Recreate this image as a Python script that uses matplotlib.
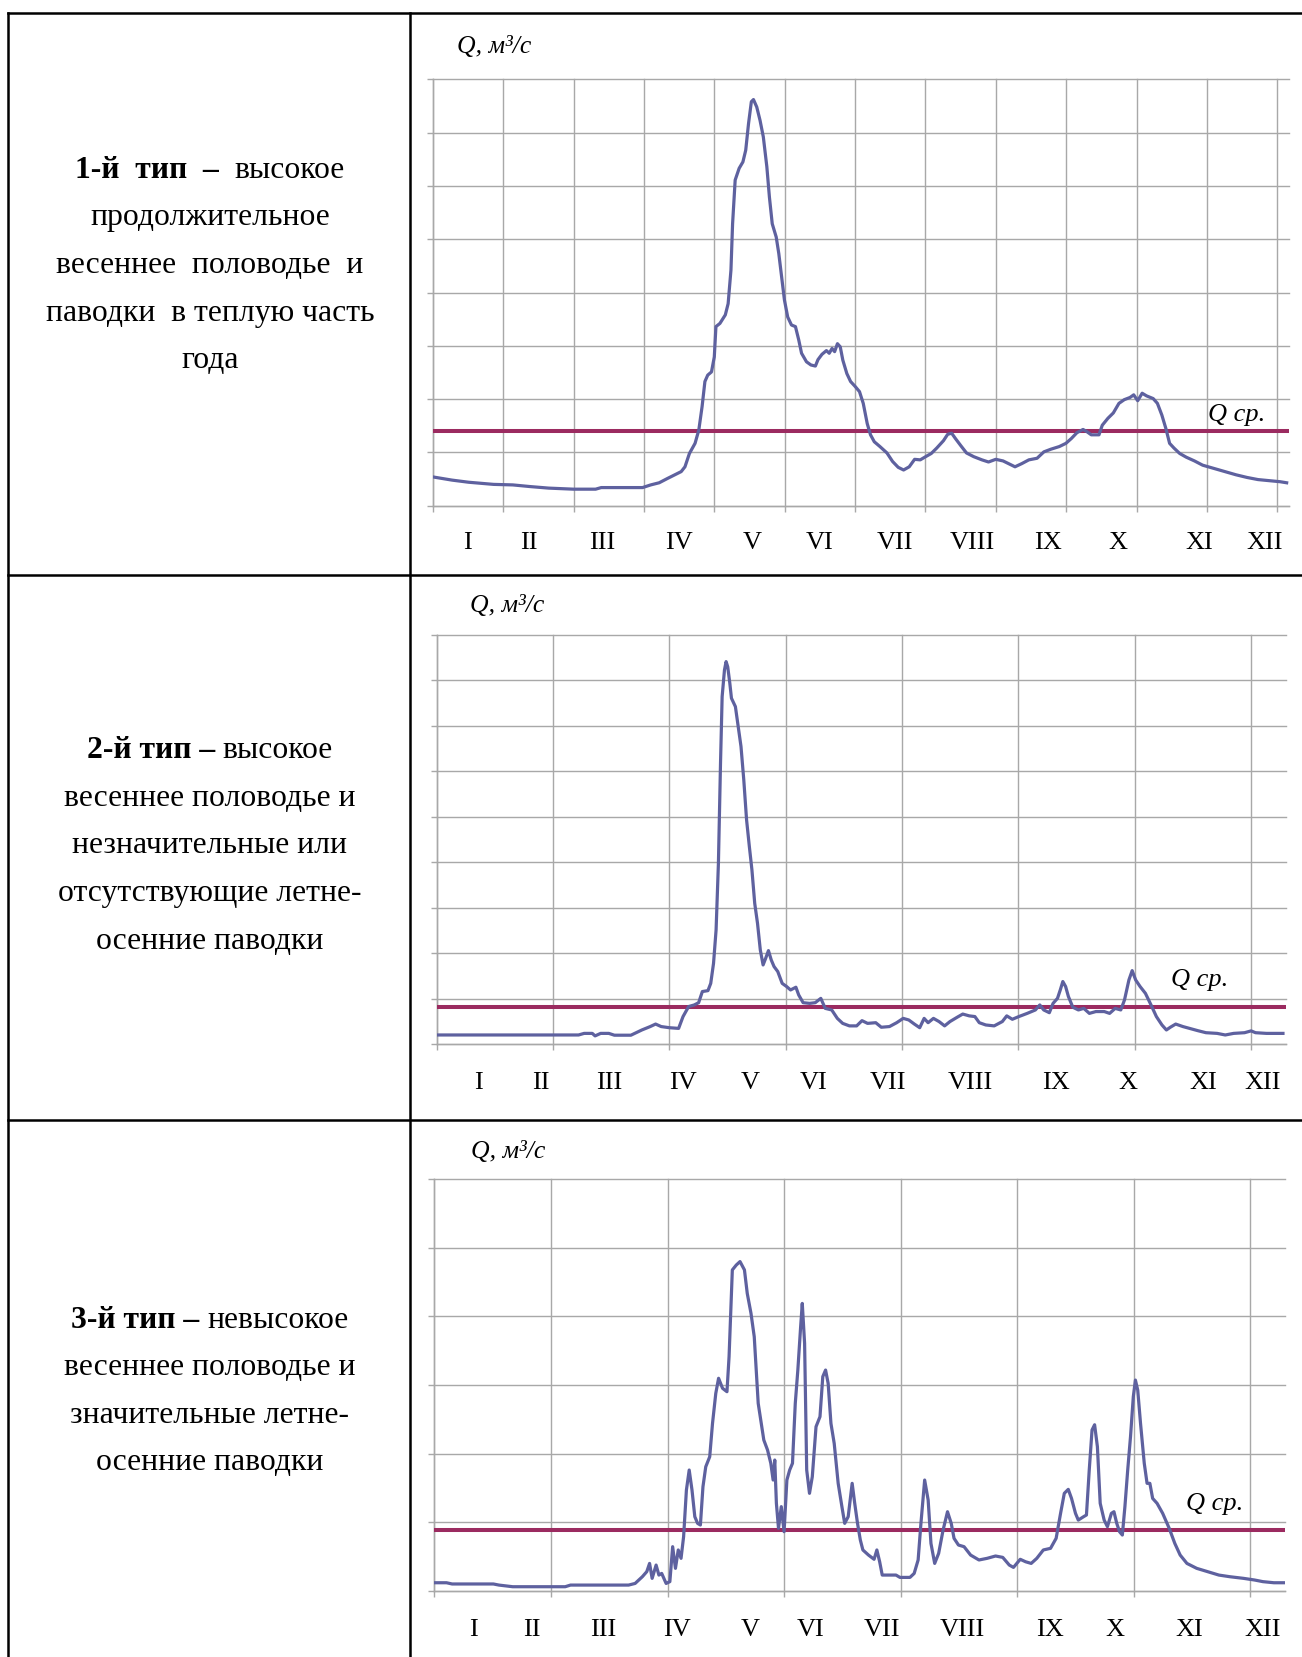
import numpy as np
import matplotlib
matplotlib.use("Agg")
import matplotlib.pyplot as plt

# ---------------------------------------------------------------------------
# Daily discharge hydrographs (day of year, Q in m3/s)
# ---------------------------------------------------------------------------
days_1 = [0, 8.2, 15.3, 25.9, 34.1, 41.2, 49.4, 60, 69.4, 71.8,
          89.4, 92.9, 96.5, 100, 105.9, 107.5, 109.4, 111.8, 113.4, 114.8,
          116, 117.2, 118.8, 120, 120.7, 122.4, 124.7, 125.9, 127.1, 127.8,
          128.9, 130.6, 132.2, 133.4, 134.6, 135.8, 136.7, 138.1, 139.5, 140.9,
          142.4, 143.5, 144.7, 146.4, 147.5, 148.7, 149.9, 151.3, 152.9, 154.6,
          156, 157.2, 159.3, 161.2, 163.1, 164.2, 165.9, 167.8, 169, 170.2,
          171.3, 172.5, 173.7, 174.8, 176.5, 178.1, 180, 181.9, 183.5, 185.2,
          186.6, 188.2, 190.6, 193.6, 196, 198.4, 200.7, 203.1, 205.4, 207.8,
          210.1, 212.5, 214.8, 217.7, 219.5, 221.2, 222.8, 225.2, 227.5, 230.6,
          234.1, 236.9, 240, 243.1, 245.9, 248.2, 251.1, 254.1, 257.6, 260.5,
          263.5, 267.1, 269.9, 272.2, 274.6, 277.2, 278.8, 280.7, 284, 285.4,
          287.8, 290.1, 292.5, 294.8, 297.2, 298.8, 300.5, 302.4, 304.3, 307.1,
          308.9, 310.8, 312.5, 314.1, 316, 318.4, 321.2, 324.7, 328.2, 332.9,
          337.7, 342.4, 347.1, 351.8, 356.5, 361.2, 364]
q_1 = [54, 48, 44, 40, 39, 36, 33, 31, 31, 34,
       34, 39, 43, 51, 64, 73, 98, 117, 142, 186,
       233, 245, 251, 279, 336, 342, 358, 379, 442, 529,
       611, 633, 645, 667, 717, 758, 762, 748, 723, 692,
       636, 579, 529, 504, 473, 429, 386, 354, 339, 336,
       311, 286, 270, 264, 262, 274, 284, 291, 286, 295,
       289, 304, 298, 273, 248, 233, 224, 214, 192, 154,
       133, 120, 111, 99, 83, 72, 67, 73, 87, 86,
       92, 98, 108, 122, 134, 136, 126, 112, 99, 92,
       86, 82, 87, 84, 78, 73, 79, 86, 89, 101,
       106, 111, 117, 126, 137, 143, 139, 133, 133, 151,
       164, 174, 192, 199, 203, 208, 197, 211, 206, 201,
       192, 170, 145, 117, 108, 98, 91, 84, 76, 70,
       64, 58, 53, 49, 47, 45, 43]
q_mean_1 = 140

days_2 = [0, 61, 63.4, 66.9, 68.1, 70.5, 74, 76.4, 83.5, 85.8,
          88.2, 91.8, 94.1, 96.5, 100, 104, 105.9, 108.3, 110.7, 112.6,
          114.2, 116.6, 117.8, 119, 120.1, 121.1, 122, 122.7, 123.7, 124.4,
          125.1, 126, 126.7, 128.4, 129.6, 130.8, 132, 133.2, 134.4, 135.5,
          136.7, 137.9, 139.1, 140.3, 141.4, 142.6, 143.8, 145, 146.6, 148.5,
          150.4, 152.1, 154.4, 155.6, 157.5, 160.3, 162.7, 165.1, 167, 169.8,
          172.2, 174.5, 177.4, 180.5, 182.8, 185.2, 188.7, 191.1, 194.6, 197.7,
          200.5, 202.9, 205.3, 207.6, 209.5, 211.2, 213.5, 215.9, 218.3, 220.6,
          223.7, 226.1, 228.9, 231.3, 233.2, 236, 239.6, 243.1, 245, 247.4,
          250.2, 253.8, 257.3, 259.2, 260.9, 263.3, 264.9, 266.8, 268, 269.1,
          270.3, 271.5, 273.4, 275.8, 278.1, 280.5, 283.3, 286.9, 289.2, 291.6,
          294, 295.6, 297.5, 298.9, 300.4, 302.3, 304.6, 307, 309.3, 311.7,
          313.6, 315.3, 317.6, 320.7, 323.5, 327.1, 330.6, 335.4, 338.9, 342.5,
          347.2, 350, 351.9, 356.6, 363.7]
q_2 = [4.1, 4.1, 4.8, 4.8, 3.7, 4.8, 4.8, 4.0, 4.0, 5.1,
       6.3, 7.8, 8.9, 7.8, 7.3, 7.0, 12.2, 16.6, 17.3, 18.3,
       23.2, 23.6, 26.8, 35.6, 50.3, 79.6, 123.6, 152.9, 164.6, 168.3,
       166, 158.8, 152.2, 148.5, 139.7, 131, 116.3, 98.7, 86.9, 76.7,
       62, 53.2, 41.5, 34.9, 37.8, 41.2, 37.1, 34.2, 32, 26.8,
       25.4, 23.9, 25.1, 21.7, 18.3, 18, 18.3, 20.2, 15.8, 15.1,
       11.4, 9.2, 8.1, 8.1, 10.4, 9.2, 9.5, 7.5, 7.8, 9.5,
       11.4, 10.7, 8.9, 7.3, 11.4, 9.5, 11.4, 10, 8.1, 10,
       11.9, 13.3, 12.5, 12.2, 9.5, 8.5, 8.1, 10, 12.5, 11,
       12.2, 13.6, 15.1, 17.3, 15.1, 13.9, 18, 20.2, 23.9, 27.6,
       25.4, 21, 16.3, 15.1, 15.8, 13.6, 14.4, 14.4, 13.6, 15.8,
       15.1, 19.5, 28.3, 32.4, 28.3, 25.4, 22.4, 17.3, 12.2, 8.5,
       6.3, 7.5, 8.9, 7.8, 7, 6, 5.1, 4.8, 4.1, 4.8,
       5.1, 5.9, 5.1, 4.8, 4.8]
q_mean_2 = 16.3

days_3 = [0, 5.2, 7.6, 25.3, 27.7, 33.6, 56.1, 58.4, 83.3, 86.1,
          89.2, 91.1, 92.3, 93.4, 95.1, 96.3, 97.5, 99.4, 101, 102.2,
          103.4, 104.6, 105.8, 106.9, 108.1, 109.3, 110.5, 111.7, 112.9, 114.1,
          115.2, 116.4, 118.1, 119.3, 120.7, 121.9, 123.6, 125.5, 126.4, 127.8,
          129.5, 131.1, 133, 134.2, 135.8, 137.2, 138.9, 141.3, 142.9, 144.3,
          145.3, 146, 146.7, 147.6, 148.8, 150, 151.2, 152.4, 153.6, 154.8,
          155.9, 157.1, 157.8, 158.8, 159.7, 160.9, 162.1, 163.7, 165.4, 166.6,
          167.8, 168.9, 170.1, 171.5, 173.2, 174.8, 176, 177.5, 179.2, 180.3,
          181.5, 182.7, 183.8, 186.2, 188.6, 189.8, 191, 192.1, 195.7, 198,
          199.7, 204, 205.8, 207.5, 208.7, 210.3, 211.8, 213, 214.6, 216.3,
          218.2, 220.1, 221.7, 222.9, 224.8, 227.2, 230, 233.6, 237.1, 240.7,
          243.8, 246.6, 248.4, 251.3, 253.6, 256, 258.4, 261.2, 264.3, 266.7,
          268.6, 270.2, 271.9, 273.3, 275, 276.2, 278.5, 279.7, 280.9, 282.1,
          283.2, 284.4, 285.6, 287.3, 288.7, 290.4, 291.5, 292.7, 293.9, 295.1,
          296.2, 297.4, 298.6, 299.8, 300.7, 301.7, 302.9, 304.5, 305.7, 306.9,
          308.1, 310, 312.4, 315.2, 317.6, 319.9, 322.8, 327, 331.7, 336.5,
          341.2, 347.1, 351.8, 355.4, 360.1, 364.4]
q_3 = [5.8, 5.8, 4.9, 4.9, 4.1, 2.9, 2.9, 4.1, 4.1, 5.3,
       10.2, 13.9, 19.9, 9.0, 18.7, 11.4, 12.6, 5.3, 6.6, 32.1,
       16.3, 29.7, 23.6, 39.4, 73.4, 88, 73.4, 54, 49.1, 47.9,
       75.8, 90.4, 97.7, 122, 143.9, 154.9, 147.6, 145.1, 170.7, 233.9,
       237.5, 240, 233.9, 216.8, 202.3, 185.2, 136.6, 109.9, 102.6, 92.9,
       80.7, 95.3, 63.7, 45.5, 61.3, 43, 80.7, 88, 92.9, 136.6,
       160.9, 192.5, 209.5, 180.4, 88, 71, 83.1, 119.6, 126.9, 156.1,
       160.9, 151.2, 122, 107.4, 78.3, 61.3, 49.1, 54, 78.3, 63.7,
       49.1, 37, 29.7, 26, 22.9, 29.7, 21.1, 11.4, 11.4, 11.4,
       9.7, 9.7, 12.6, 22.4, 49.1, 80.7, 66.1, 34.5, 19.9, 27.2,
       44.2, 57.6, 49.1, 38.2, 33.3, 32.1, 26, 22.4, 23.6, 25.3,
       24.3, 18.7, 17, 22.9, 21.1, 19.9, 23.6, 29.7, 30.9, 38.2,
       56.4, 71, 73.9, 67.3, 56.4, 51.5, 54, 55.2, 88, 117.2,
       121, 105, 63.7, 51.5, 46.7, 56.4, 57.6, 49.1, 43, 40.6,
       61.3, 88, 112.3, 141.5, 153.6, 146.3, 122, 92.9, 78.3, 78.3,
       67.3, 63.7, 56.4, 45.5, 34.5, 26, 19.9, 16.3, 13.9, 11.4,
       10.2, 9, 7.8, 6.6, 5.8, 5.8]
q_mean_3 = 44.2

months = ["I", "II", "III", "IV", "V", "VI", "VII", "VIII", "IX", "X", "XI", "XII"]

# each line: list of (text, weight, gap-in-spaces before the next piece)
descriptions = [
    [[("1-й  тип  –", "bold", 2), ("высокое", "normal", 0)],
     [("продолжительное", "normal", 0)],
     [("весеннее  половодье  и", "normal", 0)],
     [("паводки  в теплую часть", "normal", 0)],
     [("года", "normal", 0)]],
    [[("2-й тип –", "bold", 1), ("высокое", "normal", 0)],
     [("весеннее половодье и", "normal", 0)],
     [("незначительные или", "normal", 0)],
     [("отсутствующие летне-", "normal", 0)],
     [("осенние паводки", "normal", 0)]],
    [[("3-й тип –", "bold", 1), ("невысокое", "normal", 0)],
     [("весеннее половодье и", "normal", 0)],
     [("значительные летне-", "normal", 0)],
     [("осенние паводки", "normal", 0)]],
]

# ---------------------------------------------------------------------------
# Layout (pixels of the 1302 x 1657 canvas)
# ---------------------------------------------------------------------------
W, H = 1302, 1657
SERIF = "Liberation Serif"
GRID = "#A8A8A8"
CURVE = "#5E619F"
QCOL = "#9B2B60"

fig = plt.figure(figsize=(W / 100, H / 100), dpi=100)
fig.patch.set_facecolor("white")
bg = fig.add_axes([0, 0, 1, 1])
bg.set_xlim(0, W)
bg.set_ylim(H, 0)
bg.axis("off")

# table frame
TL = 1.8
bg.plot([8, W + 5], [13, 13], color="black", lw=TL, solid_capstyle="projecting")
bg.plot([8, 8], [13, H + 5], color="black", lw=TL)
bg.plot([410, 410], [13, H + 5], color="black", lw=TL)
bg.plot([8, W + 5], [575, 575], color="black", lw=TL)
bg.plot([8, W + 5], [1119.5, 1119.5], color="black", lw=TL)

renderer = fig.canvas.get_renderer()


def centered_line(cx, y, parts, size):
    space = 0.25 * size * 100 / 72
    texts = [bg.text(0, y, s, fontsize=size, fontweight=w, family=SERIF,
                     ha="left", va="baseline") for s, w, _ in parts]
    widths = [t.get_window_extent(renderer).width for t in texts]
    gaps = [g * space for _, _, g in parts]
    total = sum(widths) + sum(gaps[:-1])
    x = cx - total / 2
    for t, w, g in zip(texts, widths, gaps):
        t.set_x(x)
        x += w + g


row_baselines = [[178, 225.5, 273, 320.5, 368],
                 [758, 806, 853, 901, 949],
                 [1328, 1375, 1423, 1470]]
for lines, ys in zip(descriptions, row_baselines):
    for parts, y in zip(lines, ys):
        centered_line(210, y, parts, 22.8)

charts = [
    dict(days=days_1, q=q_1, qm=q_mean_1, box=(432.8, 1289, 79.3, 505.7),
         xstep=30, ystep=100, ymax=800,
         qlab=(457, 53), qsr=(1208, 421), mbase=549,
         mx=[467, 529, 602, 679, 752, 820, 895, 972, 1048, 1118, 1199, 1265]),
    dict(days=days_2, q=q_2, qm=q_mean_2, box=(436.6, 1286, 635, 1044.3),
         xstep=50, ystep=20, ymax=180,
         qlab=(470, 612), qsr=(1171, 986), mbase=1089,
         mx=[478, 541, 609, 683, 750, 814, 888, 970, 1056, 1128, 1203, 1263]),
    dict(days=days_3, q=q_3, qm=q_mean_3, box=(434.4, 1285.3, 1179.3, 1590.7),
         xstep=50, ystep=50, ymax=300,
         qlab=(471, 1158), qsr=(1186, 1510), mbase=1636,
         mx=[473, 532, 603, 677, 750, 811, 882, 962, 1050, 1115, 1189, 1263]),
]

for c in charts:
    x0, x1, y0, y1 = c["box"]
    ax = fig.add_axes([x0 / W, 1 - y1 / H, (x1 - x0) / W, (y1 - y0) / H])
    ax.patch.set_alpha(0)
    ax.set_xlim(0, 365)
    ax.set_ylim(0, c["ymax"])
    ax.set_xticks(np.arange(0, 365, c["xstep"]))
    ax.set_yticks(np.arange(0, c["ymax"] + c["ystep"] / 2, c["ystep"]))
    ax.tick_params(direction="out", length=4.3, width=1.0, color=GRID,
                   labelbottom=False, labelleft=False)
    ax.grid(True, color=GRID, lw=1.0, zorder=0)
    for gl in ax.get_ygridlines() + ax.get_xgridlines():
        gl.set_clip_on(False)
    for s in ("top", "right"):
        ax.spines[s].set_visible(False)
    for s in ("left", "bottom"):
        ax.spines[s].set_color(GRID)
        ax.spines[s].set_linewidth(1.0)
    ax.axhline(c["qm"], color=QCOL, lw=2.9, zorder=3)
    ax.plot(c["days"], c["q"], color=CURVE, lw=2.3, zorder=4,
            solid_joinstyle="round")

    bg.text(c["qlab"][0], c["qlab"][1], "Q, м³/с", fontsize=18.5,
            style="italic", family=SERIF, ha="left", va="baseline")
    bg.text(c["qsr"][0], c["qsr"][1], "Q ср.", fontsize=19,
            style="italic", family=SERIF, ha="left", va="baseline")
    for x, m in zip(c["mx"], months):
        bg.text(x, c["mbase"], m, fontsize=19, family=SERIF,
                ha="center", va="baseline")

fig.savefig("out.png", dpi=100, facecolor="white")
